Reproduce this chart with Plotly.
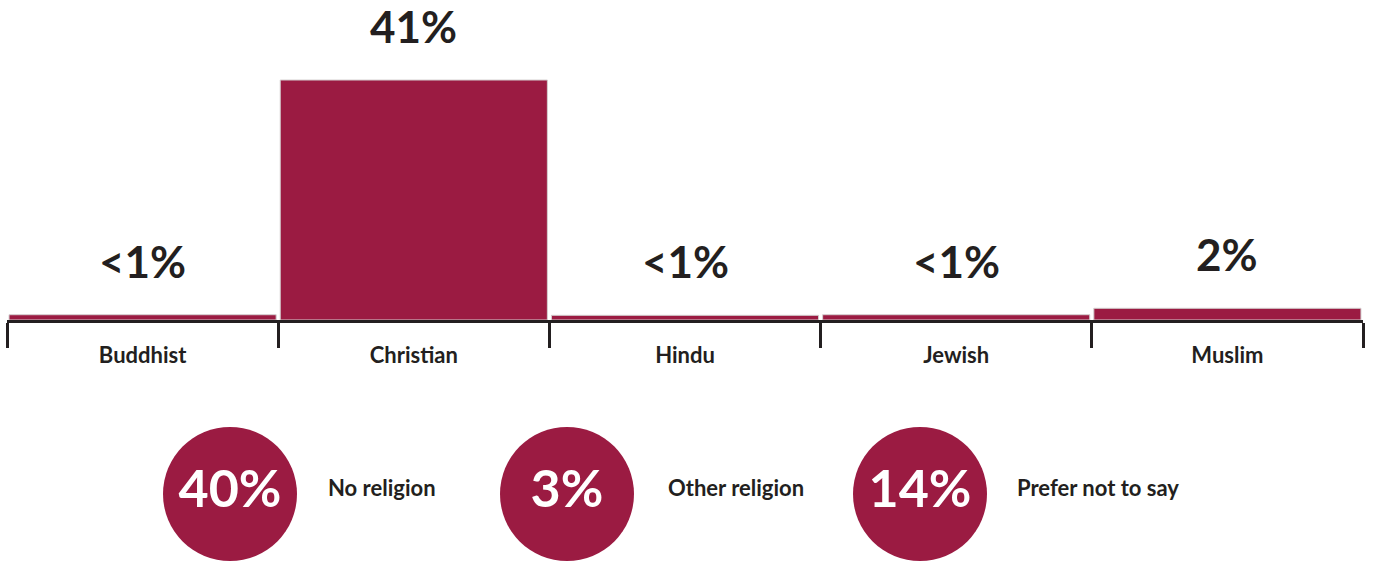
import plotly.graph_objects as go

# Religion breakdown
categories = ["Buddhist", "Christian", "Hindu", "Jewish", "Muslim"]
values = [0.9, 41, 0.8, 0.9, 2]
value_labels = ["<1%", "41%", "<1%", "<1%", "2%"]

# Summary groups shown as circles
summary_labels = ["No religion", "Other religion", "Prefer not to say"]
summary_values = ["40%", "3%", "14%"]

W, H = 1373, 561
MAROON = "#9b1b42"
INK = "#231f20"
FONT = "Lato"

# page layout (pixels)
axis_y_px = 320
bar_left_px, bar_right_px = 7, 1363
px_per_pct = 240 / 41
circle_cx = [230, 567, 920]
circle_cy = 494
circle_d = 134
label_x = [328, 668, 1017]

y_dom0 = 1 - axis_y_px / H
y_max = axis_y_px / px_per_pct

fig = go.Figure()

fig.add_trace(go.Bar(
    x=categories, y=values,
    marker=dict(color=MAROON, line=dict(color="#d4d0d0", width=1)),
    hoverinfo="skip",
    xaxis="x", yaxis="y",
))

for cat, val, lab in zip(categories, values, value_labels):
    fig.add_annotation(
        x=cat, y=val, xref="x", yref="y",
        text=f"<b>{lab}</b>", showarrow=False,
        yanchor="bottom", yshift=26,
        font=dict(family=FONT, size=44, color=INK),
    )

# circles with their percentages
fig.add_trace(go.Scatter(
    x=circle_cx, y=[H - circle_cy] * 3,
    mode="markers+text",
    marker=dict(size=circle_d, color=MAROON, line=dict(width=0)),
    text=[f"<b>{v}</b>" for v in summary_values],
    textposition="middle center",
    textfont=dict(family=FONT, size=52, color="white"),
    hoverinfo="skip",
    xaxis="x2", yaxis="y2",
))

fig.add_trace(go.Scatter(
    x=label_x, y=[H - 490] * 3,
    mode="text",
    text=[f"<b>{t}</b>" for t in summary_labels],
    textposition="middle right",
    textfont=dict(family=FONT, size=22, color=INK),
    hoverinfo="skip",
    xaxis="x2", yaxis="y2",
))

fig.update_layout(
    width=W, height=H,
    margin=dict(l=0, r=0, t=0, b=0),
    paper_bgcolor="white", plot_bgcolor="rgba(0,0,0,0)",
    showlegend=False,
    bargap=0.015,
    hovermode=False,
    xaxis=dict(
        domain=[bar_left_px / W, bar_right_px / W],
        type="category", range=[-0.5, 4.5],
        tickmode="array", tickvals=categories,
        ticktext=[f"<b>{c}</b>" for c in categories],
        showline=True, linecolor=INK, linewidth=3,
        ticks="outside", tickson="boundaries", ticklen=25,
        tickwidth=3, tickcolor=INK,
        showgrid=False, zeroline=False,
        tickfont=dict(family=FONT, size=22, color=INK),
        ticklabelstandoff=14,
        fixedrange=True,
    ),
    yaxis=dict(
        domain=[y_dom0, 1], range=[0, y_max],
        visible=False, showgrid=False, zeroline=False, fixedrange=True,
    ),
    xaxis2=dict(domain=[0, 1], range=[0, W], visible=False,
                anchor="y2", fixedrange=True),
    yaxis2=dict(domain=[0, 1], range=[0, H], visible=False,
                anchor="x2", fixedrange=True),
)

fig.write_html("out.html", config={"displayModeBar": False})
